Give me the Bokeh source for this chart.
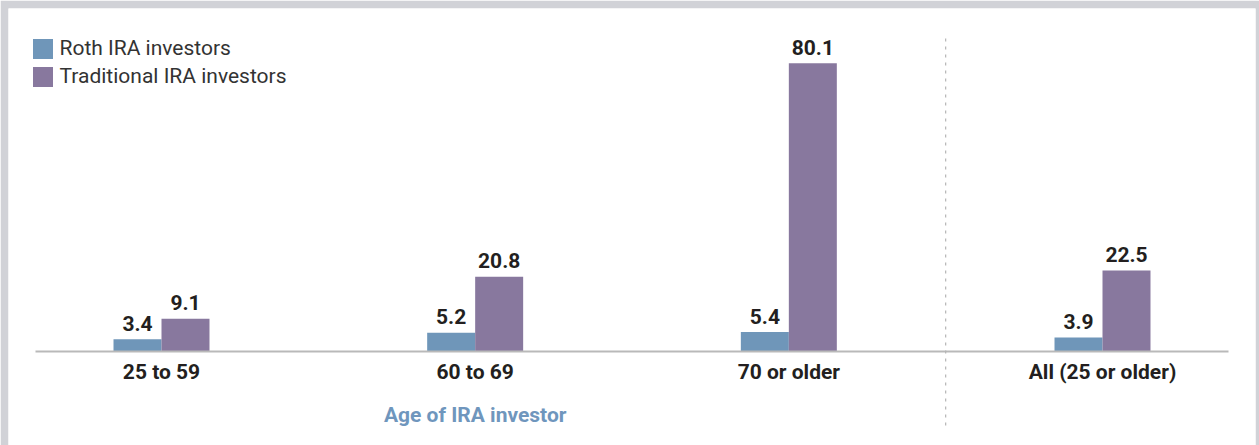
from bokeh.plotting import figure
from bokeh.models import FactorRange, Range1d, ColumnDataSource, Legend, LegendItem
from bokeh.transform import dodge
from bokeh.core.properties import value
from bokeh.embed import file_html
from bokeh.resources import INLINE

# ---- data ----
groups = ["25 to 59", "60 to 69", "70 or older", "All (25 or older)"]
roth = [3.4, 5.2, 5.4, 3.9]
traditional = [9.1, 20.8, 80.1, 22.5]
series_names = ["Roth IRA investors", "Traditional IRA investors"]
axis_title = "Age of IRA investor"
title_group = "60 to 69"
separator_before = "All (25 or older)"

# ---- style ----
ROTH_COLOR = "#6f96b9"
TRAD_COLOR = "#88789e"
TEXT_COLOR = "#231f20"
TITLE_COLOR = "#6f96bd"
FRAME_GRAY = "#d1d2d7"
FONT = "Roboto"

src = ColumnDataSource(dict(
    cat=groups,
    roth=roth,
    trad=traditional,
    roth_lbl=[f"{v:.1f}" for v in roth],
    trad_lbl=[f"{v:.1f}" for v in traditional],
))

p = figure(
    x_range=FactorRange(factors=groups, range_padding=-0.006115),
    y_range=Range1d(-26.12, 95.30),
    width=1259, height=445,
    output_backend="svg", toolbar_location=None,
    min_border_left=8, min_border_right=4,
    min_border_top=8, min_border_bottom=0,
)
p.outline_line_color = None
p.xgrid.visible = False
p.ygrid.visible = False
p.yaxis.visible = False
p.background_fill_color = "white"
p.border_fill_color = FRAME_GRAY

bw = 0.153
off = 0.0765
r1 = p.vbar(x=dodge("cat", -off, range=p.x_range), top="roth", width=bw, bottom=0,
            source=src, fill_color=ROTH_COLOR, line_color=None)
r2 = p.vbar(x=dodge("cat", off, range=p.x_range), top="trad", width=bw, bottom=0,
            source=src, fill_color=TRAD_COLOR, line_color=None)

# baseline
base = ColumnDataSource(dict(a=[groups[0]], b=[groups[-1]], y=[0]))
p.segment(x0=dodge("a", -0.4017, range=p.x_range), x1=dodge("b", 0.4017, range=p.x_range),
          y0="y", y1="y", source=base, line_color="#b9b9b9", line_width=2)

lbl_kw = dict(source=src, text_align="center", text_baseline="alphabetic",
              text_font=value(FONT), text_font_style="bold",
              text_font_size="21px", text_color=TEXT_COLOR, y_offset=-16)
p.text(x=dodge("cat", -off, range=p.x_range), y="roth", text="roth_lbl", **lbl_kw)
p.text(x=dodge("cat", off, range=p.x_range), y="trad", text="trad_lbl", **lbl_kw)

# separator dashed line
sep = ColumnDataSource(dict(x=[separator_before], y0=[-20.57], y1=[87.5]))
p.segment(x0=dodge("x", -0.5, range=p.x_range), x1=dodge("x", -0.5, range=p.x_range),
          y0="y0", y1="y1", source=sep, line_color="#b5b5b5", line_width=1.2,
          line_dash="3 5")

# axis title under second group
tsrc = ColumnDataSource(dict(x=[title_group], y=[-17.6], t=[axis_title]))
p.text(x="x", y="y", text="t", source=tsrc, text_align="center",
       text_baseline="alphabetic", text_font=value(FONT), text_font_style="bold",
       text_font_size="21px", text_color=TITLE_COLOR)

# x axis at y=0 (labels only; baseline drawn above)
xa = p.xaxis[0]
xa.fixed_location = 0
xa.axis_line_color = None
xa.major_tick_line_color = None
xa.minor_tick_line_color = None
xa.major_label_text_font = FONT
xa.major_label_text_font_style = "bold"
xa.major_label_text_font_size = "21px"
xa.major_label_text_color = TEXT_COLOR
xa.major_label_standoff = 3

legend = Legend(
    items=[LegendItem(label=series_names[0], renderers=[r1]),
           LegendItem(label=series_names[1], renderers=[r2])],
    location=(21.5, 356.5),
    padding=0, margin=0, spacing=3,
    glyph_width=25, glyph_height=25, label_height=25,
    label_standoff=5,
    label_text_font=FONT, label_text_font_size="21px",
    label_text_color="#333333",
    background_fill_alpha=0, border_line_alpha=0,
)
p.add_layout(legend, "center")

open("out.html", "w").write(file_html(p, INLINE))
